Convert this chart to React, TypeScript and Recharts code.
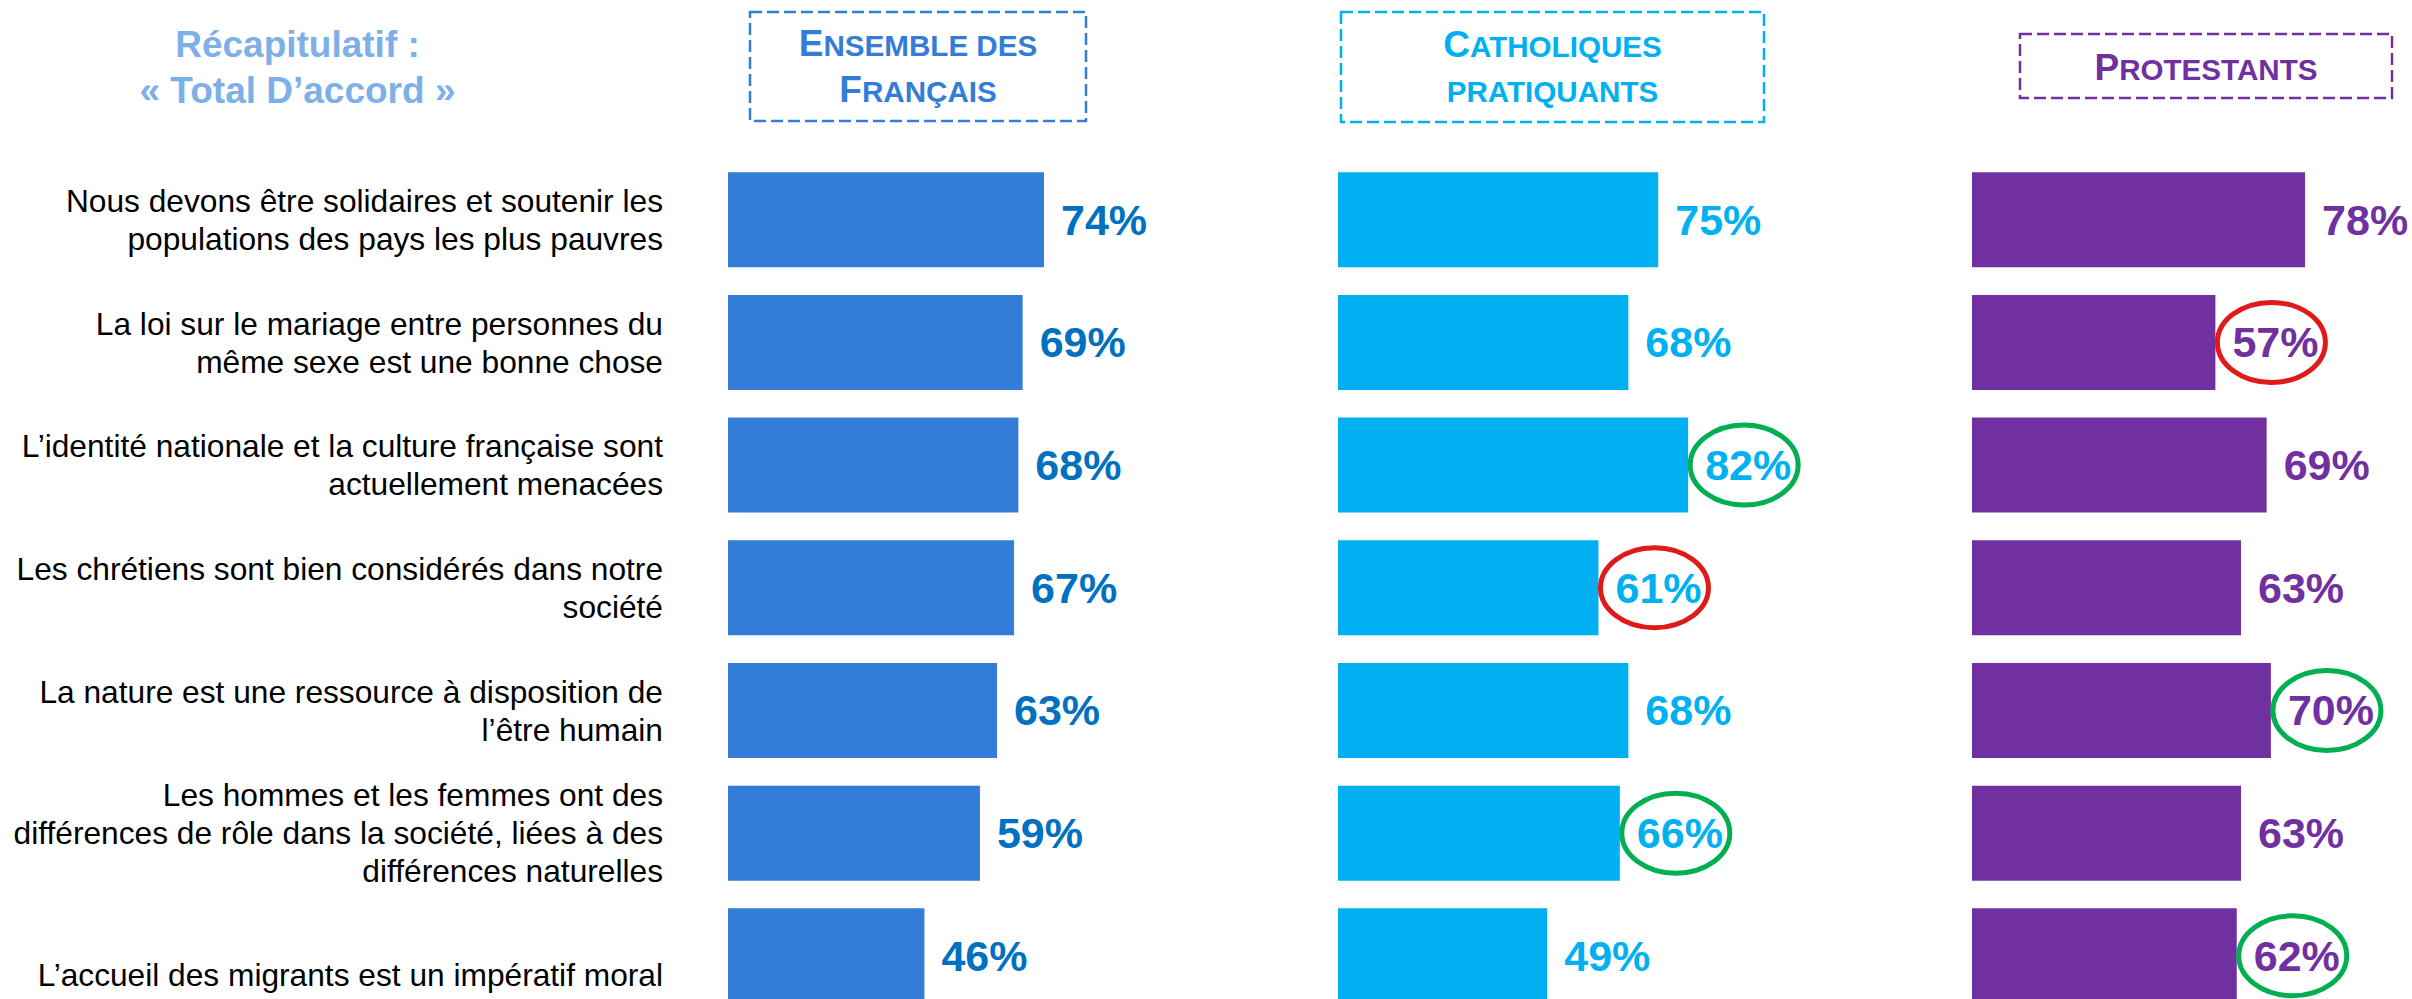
import React from 'react';
import { BarChart, Bar, XAxis, YAxis, LabelList } from 'recharts';

const categories: string[] = [
  'Nous devons être solidaires et soutenir les\npopulations des pays les plus pauvres',
  'La loi sur le mariage entre personnes du\nmême sexe est une bonne chose',
  'L’identité nationale et la culture française sont\nactuellement menacées',
  'Les chrétiens sont bien considérés dans notre\nsociété',
  'La nature est une ressource à disposition de\nl’être humain',
  'Les hommes et les femmes ont des\ndifférences de rôle dans la société, liées à des\ndifférences naturelles',
  '\nL’accueil des migrants est un impératif moral',
];

const ensemble: number[] = [74, 69, 68, 67, 63, 59, 46];
const catholiques: number[] = [75, 68, 82, 61, 68, 66, 49];
const protestants: number[] = [78, 57, 69, 63, 70, 63, 62];

// '' = none, 'up' = green ring, 'down' = red ring
const ensembleMarks: string[] = ['', '', '', '', '', '', ''];
const catholiquesMarks: string[] = ['', '', 'up', 'down', '', 'up', ''];
const protestantsMarks: string[] = ['', 'down', '', '', 'up', '', 'up'];

const titleLines: string[] = ['Récapitulatif :', '« Total D’accord »'];

const rows = categories.map((label, i) => ({
  label,
  ensemble: ensemble[i],
  catholiques: catholiques[i],
  protestants: protestants[i],
}));

const FONT = '"Liberation Sans", Arial, Helvetica, sans-serif';
const BLUE = '#337DD9';
const BLUE_TXT = '#0070C0';
const CYAN = '#00B0F0';
const PURPLE = '#7030A0';
const GREEN = '#00B050';
const RED = '#E01A1A';
const TITLE = '#7EB0E8';

const CHART_H = 1017;
const TOP = 158.2;
const BAR = 95;

const CategoryTick = (props: any) => {
  const { x, y, payload } = props;
  const lines: string[] = String(payload.value).split('\n');
  const lh = 38;
  const n = lines.length;
  return (
    <text
      x={x}
      y={y}
      textAnchor="end"
      fontFamily={FONT}
      fontSize={31.7}
      fill="#000000"
    >
      {lines.map((ln, i) => (
        <tspan key={i} x={x} y={y + (i - (n - 1) / 2) * lh + 11.3}>
          {ln}
        </tspan>
      ))}
    </text>
  );
};

const makeLabel = (color: string, marks: string[]) => (props: any) => {
  const { x, y, width, height, value, index } = props;
  const tx = Number(x) + Number(width) + 17;
  const cy = Number(y) + Number(height) / 2;
  const mark = marks[index] || '';
  return (
    <g>
      <text
        x={tx}
        y={cy}
        dominantBaseline="central"
        fontFamily={FONT}
        fontWeight="bold"
        fontSize={43}
        fill={color}
      >
        {`${value}%`}
      </text>
      {mark ? (
        <ellipse
          cx={Number(x) + Number(width) + 56}
          cy={cy}
          rx={54}
          ry={40}
          fill="none"
          stroke={mark === 'up' ? GREEN : RED}
          strokeWidth={5}
        />
      ) : null}
    </g>
  );
};

const Header = ({
  x,
  y,
  w,
  h,
  color,
  lines,
}: {
  x: number;
  y: number;
  w: number;
  h: number;
  color: string;
  lines: { big: string; small: string; base: number }[];
}) => (
  <g>
    <rect
      x={x}
      y={y}
      width={w}
      height={h}
      fill="none"
      stroke={color}
      strokeWidth={2.5}
      strokeDasharray="12 5"
    />
    {lines.map((l, i) => (
      <text
        key={i}
        x={x + w / 2}
        y={l.base}
        textAnchor="middle"
        fontFamily={FONT}
        fontWeight="bold"
        fontSize={37}
        fill={color}
      >
        {l.big}
        <tspan fontSize={29.6}>{l.small}</tspan>
      </text>
    ))}
  </g>
);

export default function App() {
  return (
    <div
      style={{
        position: 'fixed',
        left: 0,
        top: 0,
        width: 2412,
        height: 999,
        overflow: 'hidden',
        background: '#ffffff',
      }}
    >
      <div style={{ position: 'absolute', left: 0, top: 0 }}>
        <BarChart
          layout="vertical"
          width={1360}
          height={CHART_H}
          data={rows}
          margin={{ top: TOP, right: 205, bottom: 0, left: 0 }}
        >
          <XAxis type="number" domain={[0, 100]} hide />
          <YAxis
            type="category"
            dataKey="label"
            width={728}
            tickLine={false}
            axisLine={false}
            tickSize={0}
            tickMargin={65}
            interval={0}
            tick={<CategoryTick />}
          />
          <Bar dataKey="ensemble" fill={BLUE} barSize={BAR} isAnimationActive={false}>
            <LabelList dataKey="ensemble" content={makeLabel(BLUE_TXT, ensembleMarks)} />
          </Bar>
        </BarChart>
      </div>
      <div style={{ position: 'absolute', left: 1338, top: 0 }}>
        <BarChart
          layout="vertical"
          width={632}
          height={CHART_H}
          data={rows}
          margin={{ top: TOP, right: 205, bottom: 0, left: 0 }}
        >
          <XAxis type="number" domain={[0, 100]} hide />
          <YAxis type="category" dataKey="label" hide width={0} />
          <Bar dataKey="catholiques" fill={CYAN} barSize={BAR} isAnimationActive={false}>
            <LabelList dataKey="catholiques" content={makeLabel(CYAN, catholiquesMarks)} />
          </Bar>
        </BarChart>
      </div>
      <div style={{ position: 'absolute', left: 1972, top: 0 }}>
        <BarChart
          layout="vertical"
          width={640}
          height={CHART_H}
          data={rows}
          margin={{ top: TOP, right: 213, bottom: 0, left: 0 }}
        >
          <XAxis type="number" domain={[0, 100]} hide />
          <YAxis type="category" dataKey="label" hide width={0} />
          <Bar dataKey="protestants" fill={PURPLE} barSize={BAR} isAnimationActive={false}>
            <LabelList dataKey="protestants" content={makeLabel(PURPLE, protestantsMarks)} />
          </Bar>
        </BarChart>
      </div>
      <svg
        width={2412}
        height={999}
        style={{ position: 'absolute', left: 0, top: 0, pointerEvents: 'none' }}
      >
        {titleLines.map((t, i) => (
          <text
            key={i}
            x={297.5}
            y={57.3 + i * 46}
            textAnchor="middle"
            fontFamily={FONT}
            fontWeight="bold"
            fontSize={37}
            fill={TITLE}
          >
            {t}
          </text>
        ))}
        <Header
          x={750}
          y={12}
          w={336}
          h={109}
          color={BLUE}
          lines={[
            { big: 'E', small: 'NSEMBLE DES', base: 56 },
            { big: 'F', small: 'RANÇAIS', base: 102 },
          ]}
        />
        <Header
          x={1341}
          y={12}
          w={423}
          h={110}
          color={CYAN}
          lines={[
            { big: 'C', small: 'ATHOLIQUES', base: 57 },
            { big: '', small: 'PRATIQUANTS', base: 102 },
          ]}
        />
        <Header
          x={2020}
          y={34}
          w={372}
          h={64}
          color={PURPLE}
          lines={[{ big: 'P', small: 'ROTESTANTS', base: 80 }]}
        />
      </svg>
    </div>
  );
}
